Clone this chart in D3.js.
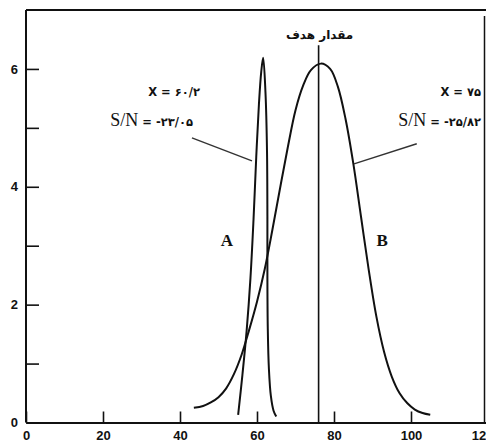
<!DOCTYPE html>
<html>
<head>
<meta charset="utf-8">
<script src="https://cdn.jsdelivr.net/npm/d3@7"></script>
<style>
  body { margin: 0; background: #fff; }
  svg { display: block; }
</style>
</head>
<body>
<div id="chart"></div>
<script>
// curve A (narrow, off target) and curve B (wide, centred on target)
var curveA = [
  [55.1, 0.13], [56.2, 0.8], [57.3, 1.55], [58.3, 2.45], [59.1, 3.45],
  [59.8, 4.5], [60.5, 5.4], [61.1, 5.95], [61.6, 6.19], [62.2, 5.6],
  [62.6, 4.6], [62.7, 3.5], [62.7, 2.5], [62.8, 1.6], [63.1, 0.9],
  [63.6, 0.45], [64.3, 0.2], [65.0, 0.1]
];
var curveB = [
  [43.6, 0.25], [46, 0.28], [48, 0.34], [50, 0.43], [52, 0.58],
  [54, 0.82], [56, 1.15], [58, 1.58], [60, 2.05], [62, 2.6],
  [64, 3.27], [66, 3.98], [68, 4.67], [70, 5.3], [72, 5.72],
  [74, 5.98], [76.6, 6.09], [79, 6.0], [81, 5.7], [83, 5.15],
  [85, 4.4], [87, 3.5], [89, 2.6], [91, 1.8], [93, 1.2],
  [95, 0.78], [97, 0.5], [99, 0.33], [101, 0.22], [103, 0.16], [105, 0.13]
];
var xTicks = [0, 20, 40, 60, 80, 100, 120];
var yTicks = [0, 1, 2, 3, 4, 5, 6];
var yLabels = [0, 2, 4, 6];
var target = 76;
var targetLabel = "مقدار هدف";
var labelA = { name: "A", mean: "X = ۶۰/۲", sn: "-۲۳/۰۵" };
var labelB = { name: "B", mean: "X = ۷۵", sn: "-۲۵/۸۲" };

var width = 486;
var height = 448;

var svg = d3
  .select("#chart")
  .append("svg")
  .attr("width", width)
  .attr("height", height);

var x = d3.scaleLinear().domain([0, 120]).range([26, 488]);
var y = d3.scaleLinear().domain([0, 7]).range([422.5, 10]);

var ink = "#111";
var tickFont = "'Liberation Sans', Arial, sans-serif";

// frame: top and right border
svg
  .append("line")
  .attr("x1", x(0))
  .attr("x2", width)
  .attr("y1", y(7))
  .attr("y2", y(7))
  .attr("stroke", ink)
  .attr("stroke-width", 2);
svg
  .append("line")
  .attr("x1", width - 1.5)
  .attr("x2", width - 1.5)
  .attr("y1", y(7) + 6)
  .attr("y2", y(0))
  .attr("stroke", ink)
  .attr("stroke-width", 1.5);

// axes
var xAxis = svg
  .append("g")
  .attr("transform", "translate(0," + y(0) + ")")
  .call(
    d3.axisBottom(x)
      .tickValues(xTicks)
      .tickSizeInner(-11)
      .tickSizeOuter(0)
      .tickPadding(8)
  );
xAxis.select(".domain").attr("stroke", ink).attr("stroke-width", 2);
xAxis.selectAll(".tick line").attr("stroke", ink).attr("stroke-width", 1.6);
xAxis.selectAll(".tick text")
  .attr("fill", ink)
  .attr("font-family", tickFont)
  .attr("font-weight", "bold")
  .attr("font-size", "13px")
  .attr("dx", (d) => (d === 120 ? -6 : 0));

var yAxis = svg
  .append("g")
  .attr("transform", "translate(" + x(0) + ",0)")
  .call(
    d3.axisLeft(y)
      .tickValues(yTicks)
      .tickSizeInner(-13)
      .tickSizeOuter(0)
      .tickPadding(8)
      .tickFormat((d) => (yLabels.indexOf(d) >= 0 ? d : ""))
  );
yAxis.select(".domain").attr("stroke", ink).attr("stroke-width", 2);
yAxis.selectAll(".tick line").attr("stroke", ink).attr("stroke-width", 1.6);
yAxis.selectAll(".tick text")
  .attr("fill", ink)
  .attr("font-family", tickFont)
  .attr("font-weight", "bold")
  .attr("font-size", "13px");
// extend left axis up to the frame
yAxis.select(".domain").attr("d", "M0," + y(0) + "V" + y(7));

// target line
svg
  .append("line")
  .attr("x1", x(target))
  .attr("x2", x(target))
  .attr("y1", y(0))
  .attr("y2", y(6.4))
  .attr("stroke", ink)
  .attr("stroke-width", 1.6);
svg
  .append("text")
  .attr("x", x(target) + 1)
  .attr("y", 39)
  .attr("text-anchor", "middle")
  .attr("font-family", "'DejaVu Sans', sans-serif")
  .attr("font-weight", "bold")
  .attr("font-size", "12px")
  .attr("fill", ink)
  .text(targetLabel);

// curves
var line = d3
  .line()
  .x((d) => x(d[0]))
  .y((d) => y(d[1]))
  .curve(d3.curveCatmullRom.alpha(0.5));

[curveA, curveB].forEach(function (c) {
  svg
    .append("path")
    .datum(c)
    .attr("d", line)
    .attr("fill", "none")
    .attr("stroke", ink)
    .attr("stroke-width", 2);
});

// leader lines
var leaders = [
  [[43.1, 4.83], [58.7, 4.44]],
  [[101.5, 4.73], [85.2, 4.39]]
];
svg
  .selectAll(".leader")
  .data(leaders)
  .enter()
  .append("line")
  .attr("class", "leader")
  .attr("x1", (d) => x(d[0][0]))
  .attr("y1", (d) => y(d[0][1]))
  .attr("x2", (d) => x(d[1][0]))
  .attr("y2", (d) => y(d[1][1]))
  .attr("stroke", "#333")
  .attr("stroke-width", 1.4);

// curve names
[[labelA, 52.2], [labelB, 92.5]].forEach(function (p) {
  svg
    .append("text")
    .attr("x", x(p[1]))
    .attr("y", y(3.09) + 6)
    .attr("text-anchor", "middle")
    .attr("font-family", "'Liberation Serif', 'Times New Roman', serif")
    .attr("font-weight", "bold")
    .attr("font-size", "17px")
    .attr("fill", ink)
    .text(p[0].name);
});

// mean and S/N annotations
function note(lab, right, meanRight) {
  svg
    .append("text")
    .attr("x", meanRight)
    .attr("y", 96)
    .attr("text-anchor", "end")
    .attr("direction", "ltr")
    .attr("font-family", "'DejaVu Sans', sans-serif")
    .attr("font-weight", "bold")
    .attr("font-size", "11.5px")
    .attr("fill", ink)
    .text(lab.mean);
  var t = svg
    .append("text")
    .attr("x", right)
    .attr("y", 126)
    .attr("text-anchor", "end")
    .attr("direction", "ltr")
    .attr("fill", ink);
  t.append("tspan")
    .attr("font-family", "'Liberation Serif', 'Times New Roman', serif")
    .attr("font-size", "18px")
    .text("S/N");
  t.append("tspan")
    .attr("font-family", "'DejaVu Sans', sans-serif")
    .attr("font-weight", "bold")
    .attr("font-size", "11.5px")
    .text(" = " + lab.sn);
}
note(labelA, 193, 200);
note(labelB, 481, 481);
</script>
</body>
</html>
